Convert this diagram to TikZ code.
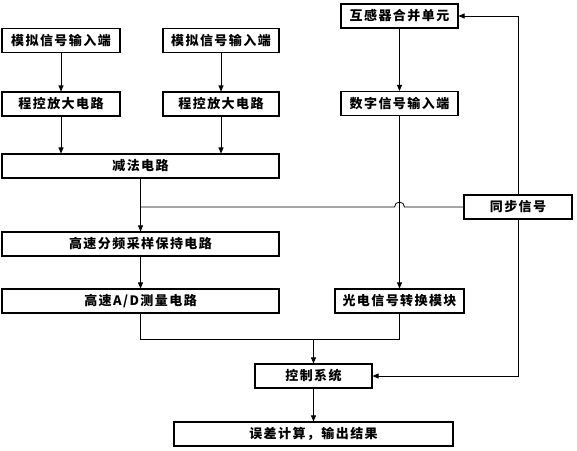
\documentclass[tikz,border=0pt]{standalone}
\usepackage{fontspec}
\newfontfamily\cjk{Noto Sans CJK SC}[LetterSpace=11]
\usetikzlibrary{arrows.meta}
\begin{document}
\begin{tikzpicture}[x=1pt,y=1pt,
  box/.style={draw,line width=1.1pt,inner sep=0pt,minimum height=24pt,font=\cjk\bfseries\fontsize{13}{15}\selectfont},
  conn/.style={line width=0.8pt},
  arr/.style={conn,-{Triangle[length=6pt,width=5pt]}}]
\useasboundingbox (0,0) rectangle (577,-450);
\node[box,minimum width=118pt] (m1) at (61,-40.5) {模拟信号输入端};
\node[box,minimum width=116pt] (m2) at (221,-40.5) {模拟信号输入端};
\node[box,minimum width=118pt] (c1) at (61,-104) {程控放大电路};
\node[box,minimum width=116pt] (c2) at (221,-104) {程控放大电路};
\node[box,minimum width=277pt] (jf) at (140.5,-166) {减法电路};
\node[box,minimum width=117pt] (hg) at (399.5,-16) {互感器合并单元};
\node[box,minimum width=117pt] (sz) at (399.5,-103.5) {数字信号输入端};
\node[box,minimum width=108pt] (tb) at (518,-207) {同步信号};
\node[box,minimum width=277pt] (gs) at (140.5,-244) {高速分频采样保持电路};
\node[box,minimum width=277pt] (ad) at (140.5,-301) {高速A/D测量电路};
\node[box,minimum width=129pt] (gd) at (399.5,-301) {光电信号转换模块};
\node[box,minimum width=117pt] (kz) at (313.5,-376) {控制系统};
\node[box,minimum width=279pt] (wc) at (313.5,-434) {误差计算，输出结果};
\draw[arr] (m1) -- (c1);
\draw[arr] (m2) -- (c2);
\draw[arr] (c1) -- (c1 |- jf.north);
\draw[arr] (c2) -- (c2 |- jf.north);
\draw[arr] (jf) -- (gs);
\draw[arr] (gs) -- (ad);
\coordinate (br) at (jf.south |- tb.west);
\draw[conn] (br) -- ([xshift=-5pt]sz.south |- br) arc[start angle=180,end angle=0,radius=5pt] -- (tb.west);
\draw[arr] (hg) -- (sz);
\draw[arr] (sz) -- (gd);
\draw[arr] (tb.north) |- (hg.east);
\draw[arr] (tb.south) |- (kz.east);
\coordinate (j) at (313.5,-339);
\draw[conn] (ad.south) |- (j);
\draw[conn] (gd.south) |- (j);
\draw[arr] (j) -- (kz);
\draw[arr] (kz) -- (wc);
\end{tikzpicture}
\end{document}
